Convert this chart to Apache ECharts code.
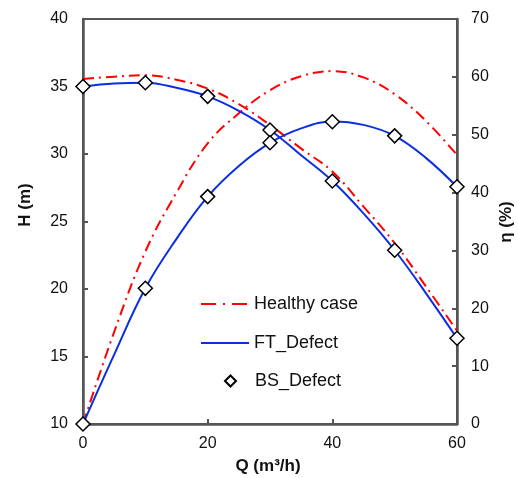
<!DOCTYPE html>
<html>
<head>
<meta charset="utf-8">
<script src="https://cdn.jsdelivr.net/npm/echarts@6/dist/echarts.min.js"></script>
<style>
html,body{margin:0;padding:0;background:#fff;}
#chart{width:519px;height:478px;}
</style>
</head>
<body>
<div id="chart"></div>
<script>
// ---- data ----
var qLine = [0, 5, 10, 15, 20, 25, 30, 35, 40, 45, 50, 55, 60];
var healthyHead = [35.56, 35.73, 35.83, 35.5, 34.85, 33.7, 32.15, 30.4, 28.7, 26.1, 23.4, 20.2, 16.9];
var healthyEta  = [0, 15.9, 29.8, 40.0, 48.5, 53.7, 57.7, 60.1, 61.0, 59.9, 57.0, 52.4, 46.5];
var ftHead = [35.0, 35.22, 35.28, 34.9, 34.27, 33.2, 31.78, 29.9, 28.0, 25.6, 22.87, 19.7, 16.35];
var ftEta  = [0, 12.0, 23.45, 32.0, 39.3, 44.6, 48.6, 51.1, 52.3, 51.7, 49.8, 46.0, 41.0];
var qMark = [0, 10, 20, 30, 40, 50, 60];
var bsHead = [35.0, 35.28, 34.27, 31.78, 28.0, 22.87, 16.35];
var bsEta  = [0, 23.45, 39.3, 48.6, 52.25, 49.8, 41.0];
var xTicks = [0, 20, 40, 60];
var hTicks = [10, 15, 20, 25, 30, 35, 40];
var etaTicks = [0, 10, 20, 30, 40, 50, 60, 70];

function pairs(xs, ys) { return xs.map(function (x, i) { return [x, ys[i]]; }); }

var RED = '#ff0000', BLUE = '#0a2fe0', AX = '#555555';
var FONT = '"Liberation Sans", Arial, Helvetica, sans-serif';
var dashDot = [11, 5, 2, 5];

var chart = echarts.init(document.getElementById('chart'), null, {renderer: 'canvas'});

var axisCommon = {
  axisLine: {show: true, lineStyle: {color: AX, width: 2.5}},
  axisTick: {show: true, inside: true, length: 5, lineStyle: {color: AX, width: 2}},
  splitLine: {show: false},
  axisLabel: {color: '#111', fontSize: 16, fontFamily: FONT}
};

var option = {
  animation: false,
  backgroundColor: '#fff',
  grid: {left: 83, right: 62, top: 19, bottom: 54, show: true, borderColor: AX, borderWidth: 2, backgroundColor: 'transparent'},
  xAxis: Object.assign({}, axisCommon, {
    type: 'value', min: xTicks[0], max: xTicks[xTicks.length - 1], interval: 20,
    axisLabel: Object.assign({}, axisCommon.axisLabel, {margin: 12})
  }),
  yAxis: [
    Object.assign({}, axisCommon, {
      type: 'value', position: 'left', min: hTicks[0], max: hTicks[hTicks.length - 1], interval: 5,
      axisLabel: Object.assign({}, axisCommon.axisLabel, {margin: 15})
    }),
    Object.assign({}, axisCommon, {
      type: 'value', position: 'right', min: etaTicks[0], max: etaTicks[etaTicks.length - 1], interval: 10,
      axisLabel: Object.assign({}, axisCommon.axisLabel, {margin: 14})
    })
  ],
  legend: [
    {
      orient: 'vertical', left: 195, top: 290,
      itemWidth: 48, itemHeight: 14, itemGap: 21,
      textStyle: {fontSize: 18, lineHeight: 18, fontFamily: FONT, color: '#111'},
      data: [
        {name: 'Healthy case', icon: 'inherit', itemStyle: {opacity: 0}, lineStyle: {type: [15, 7, 2, 7]}},
        {name: 'FT_Defect', icon: 'inherit', itemStyle: {opacity: 0}}
      ]
    },
    {
      orient: 'vertical', left: 219, top: 367,
      itemWidth: 11, itemHeight: 11,
      textStyle: {fontSize: 18, lineHeight: 18, fontFamily: FONT, color: '#111', padding: [0, 0, 0, 14]},
      data: [{name: 'BS_Defect'}]
    }
  ],
  graphic: [
    {type: 'text', x: 25, y: 205, rotation: Math.PI / 2,
      style: {text: 'H (m)', font: 'bold 17px ' + FONT, fill: '#111', align: 'center', verticalAlign: 'middle'}},
    {type: 'text', x: 506, y: 222, rotation: Math.PI / 2,
      style: {text: 'η (%)', font: 'bold 17px ' + FONT, fill: '#111', align: 'center', verticalAlign: 'middle'}},
    {type: 'text', x: 268, y: 466,
      style: {text: 'Q (m³/h)', font: 'bold 17px ' + FONT, fill: '#111', align: 'center', verticalAlign: 'middle'}}
  ],
  series: [
    {name: 'Healthy case', type: 'line', yAxisIndex: 0, data: pairs(qLine, healthyHead), smooth: 0.4, showSymbol: false, symbol: 'none',
      lineStyle: {color: RED, width: 2, type: dashDot}, itemStyle: {color: RED}, z: 2},
    {name: 'Healthy case', type: 'line', yAxisIndex: 1, data: pairs(qLine, healthyEta), smooth: 0.4, showSymbol: false, symbol: 'none',
      lineStyle: {color: RED, width: 2, type: dashDot}, itemStyle: {color: RED}, z: 2},
    {name: 'FT_Defect', type: 'line', yAxisIndex: 0, data: pairs(qLine, ftHead), smooth: 0.4, showSymbol: false, symbol: 'none',
      lineStyle: {color: BLUE, width: 2}, itemStyle: {color: BLUE}, z: 3},
    {name: 'FT_Defect', type: 'line', yAxisIndex: 1, data: pairs(qLine, ftEta), smooth: 0.4, showSymbol: false, symbol: 'none',
      lineStyle: {color: BLUE, width: 2}, itemStyle: {color: BLUE}, z: 3},
    {name: 'BS_Defect', type: 'scatter', yAxisIndex: 0, data: pairs(qMark, bsHead), symbol: 'diamond', symbolSize: 14, clip: false,
      itemStyle: {color: '#fff', borderColor: '#000', borderWidth: 1.5, opacity: 1}, z: 5},
    {name: 'BS_Defect', type: 'scatter', yAxisIndex: 1, data: pairs(qMark, bsEta), symbol: 'diamond', symbolSize: 14, clip: false,
      itemStyle: {color: '#fff', borderColor: '#000', borderWidth: 1.5, opacity: 1}, z: 5}
  ]
};
chart.setOption(option);
</script>
</body>
</html>
